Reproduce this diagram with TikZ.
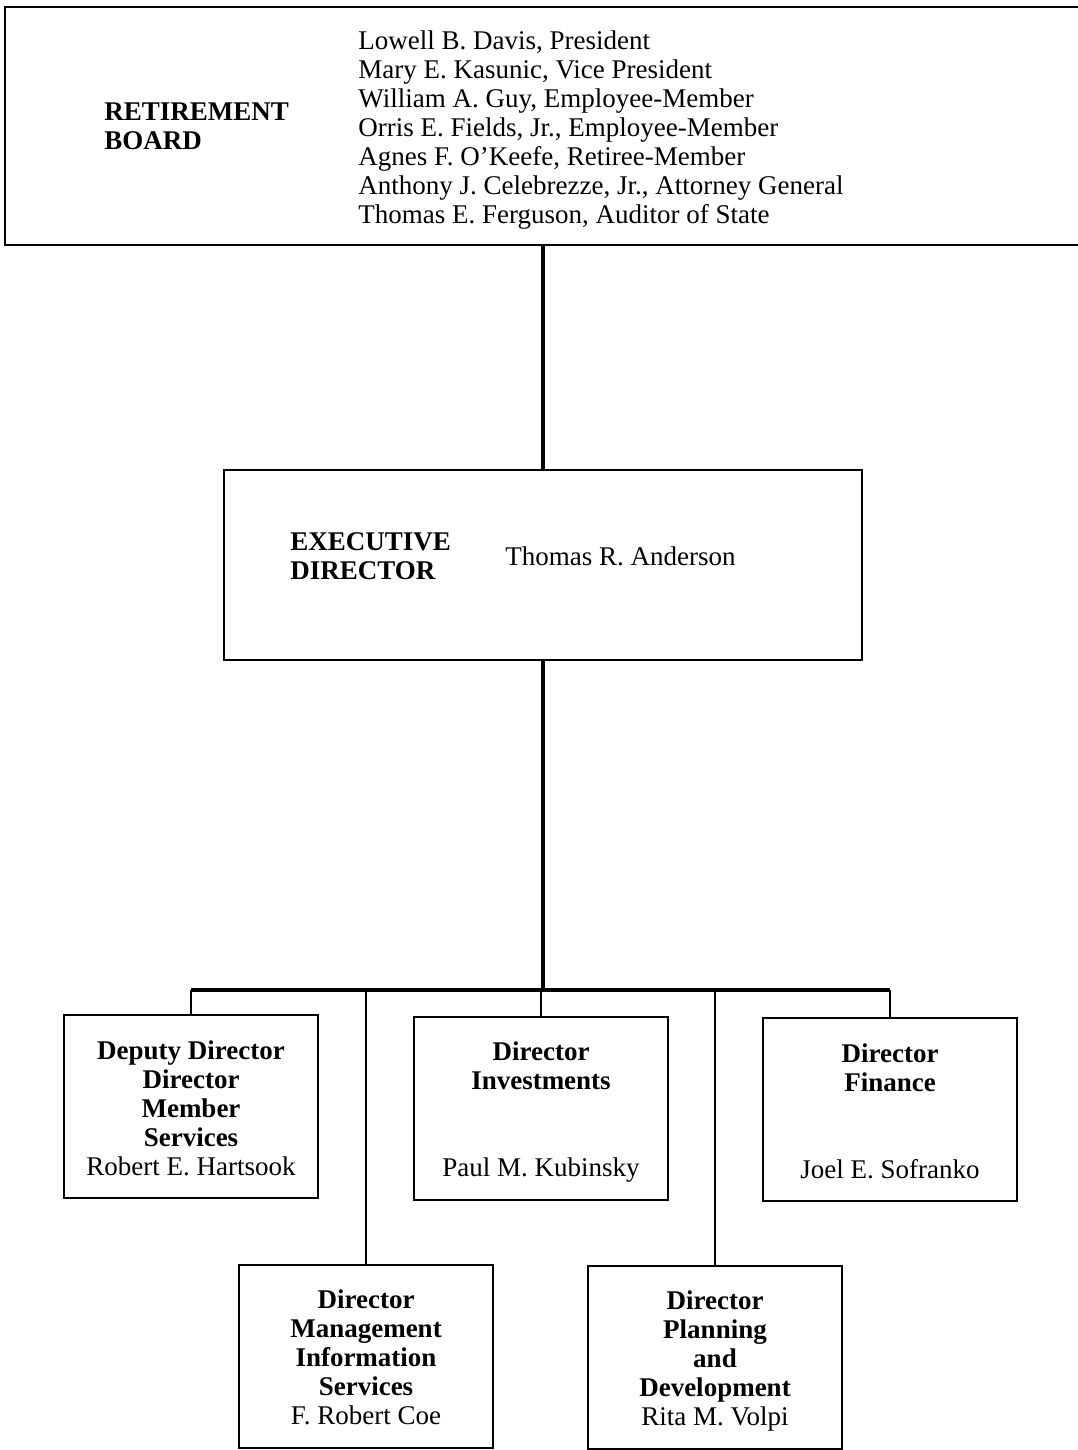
\documentclass[tikz,border=0pt]{standalone}
\usepackage{fontspec}
\setmainfont{Liberation Serif}
\newcommand{\topgap}{\rule{0pt}{15pt}}
\begin{document}
\begin{tikzpicture}[x=0.5pt,y=-0.5pt,
  every node/.style={font=\fontsize{13.5}{14.5}\selectfont,inner sep=0pt},
  frame/.style={draw,line width=1pt},
  unitbox/.style={frame,minimum width=127pt,minimum height=91.5pt,align=center,font=\fontsize{13.5}{14.5}\selectfont\bfseries},
  trunk/.style={line width=1.6pt},
  branch/.style={line width=0.8pt}]
\useasboundingbox (0,0) rectangle (1077,1450);
% board
\node[frame,line width=1.4pt,minimum width=540pt,minimum height=119pt] (board) at (545,126) {};
\node[anchor=west,align=left,font=\fontsize{13.5}{14.5}\selectfont\bfseries] (boardtitle) at (104,126) {RETIREMENT\\BOARD};
\node[anchor=west,align=left] (members) at (358,131) {\strut Lowell B. Davis, President\\
Mary E. Kasunic, Vice President\\
William A. Guy, Employee-Member\\
Orris E. Fields, Jr., Employee-Member\\
Agnes F. O'Keefe, Retiree-Member\\
Anthony J. Celebrezze, Jr., Attorney General\\
Thomas E. Ferguson, Auditor of State\strut};
% executive director
\node[frame,minimum width=319pt,minimum height=95pt] (exec) at (543,565) {};
\node[anchor=west,align=left,font=\fontsize{13.5}{14.5}\selectfont\bfseries] (exectitle) at (290,556) {EXECUTIVE\\DIRECTOR};
\node[anchor=west] (execname) at (505,556) {Thomas R. Anderson};
% directors
\node[unitbox] (deputy) at (191,1106.5) {\topgap Deputy Director\\Director\\Member\\Services\\{\mdseries Robert E. Hartsook}\strut};
\node[unitbox] (invest) at (541,1108) {\topgap Director\\Investments\\[29pt]{\mdseries Paul M. Kubinsky}\strut};
\node[unitbox] (finance) at (890,1109.5) {\topgap Director\\Finance\\[29pt]{\mdseries Joel E. Sofranko}\strut};
\node[unitbox] (mis) at (366,1356) {\topgap Director\\Management\\Information\\Services\\{\mdseries F. Robert Coe}\strut};
\node[unitbox] (plan) at (715,1357) {\topgap Director\\Planning\\and\\Development\\{\mdseries Rita M. Volpi}\strut};
% lines
\coordinate (hub) at (543,990);
\draw[trunk] (exec.north |- board.south) -- (exec.north);
\draw[trunk] (exec.south) -- (hub);
\draw[trunk] (deputy.north |- hub) -- (finance.north |- hub);
\foreach \u in {deputy,invest,finance,mis,plan}
  \draw[branch] (\u.north |- hub) -- (\u.north);
\end{tikzpicture}
\end{document}
